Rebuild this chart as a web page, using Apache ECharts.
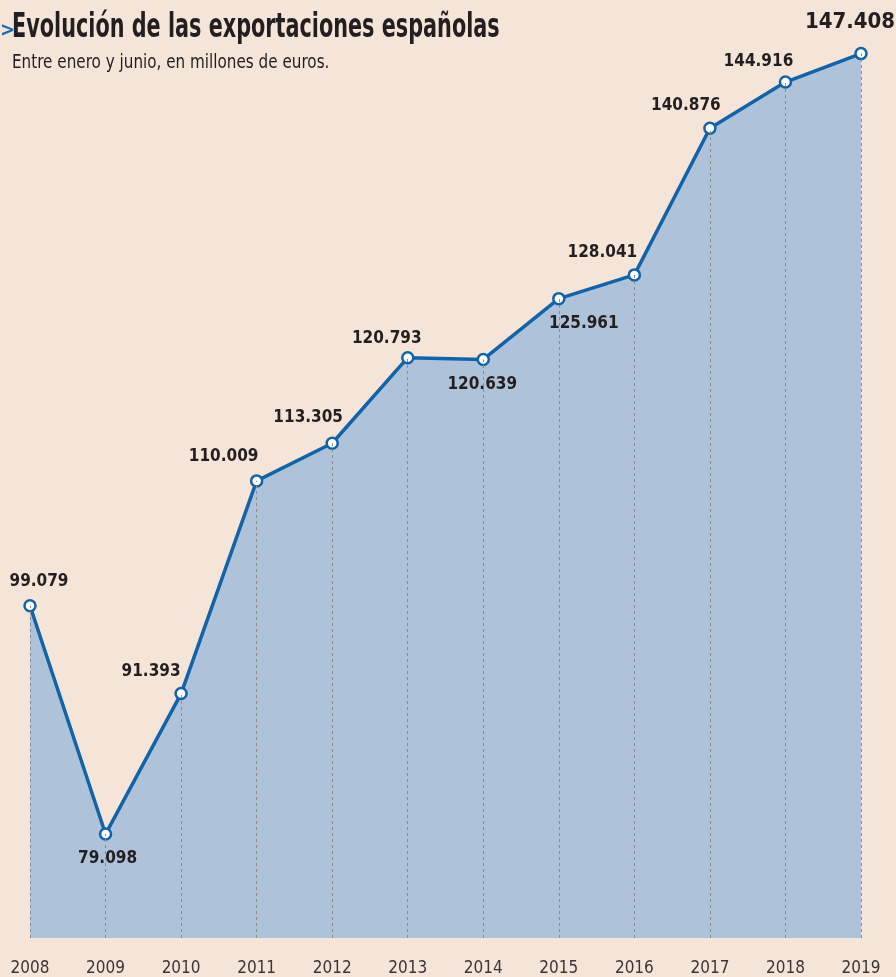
<!DOCTYPE html>
<html>
<head>
<meta charset="utf-8">
<script src="https://cdn.jsdelivr.net/npm/echarts@6/dist/echarts.min.js"></script>
<style>
  html, body { margin: 0; padding: 0; background: #f5e5d9; }
  #chart { width: 896px; height: 977px; }
</style>
</head>
<body>
<div id="chart"></div>
<script>
// datos
var years = ["2008", "2009", "2010", "2011", "2012", "2013", "2014", "2015", "2016", "2017", "2018", "2019"];
var exportsValues = [99.079, 79.098, 91.393, 110.009, 113.305, 120.793, 120.639, 125.961, 128.041, 140.876, 144.916, 147.408];
var valueLabels = ["99.079", "79.098", "91.393", "110.009", "113.305", "120.793", "120.639", "125.961", "128.041", "140.876", "144.916", "147.408"];

// posicion de cada etiqueta respecto al punto
var labelOffsets = [[9, -24], [2, 25], [-30, -22], [-33, -24], [-24, -26], [-21, -19], [-1, 25], [25, 25], [-32, -22], [-24, -23], [-27, -21], [-11, -31]];

var narrow = "'Liberation Sans Narrow', 'DejaVu Sans Condensed', 'Arial Narrow', sans-serif";
var yMin = 70;

var chart = echarts.init(document.getElementById("chart"));
chart.setOption({
  backgroundColor: "#f5e5d9",
  animation: false,
  graphic: [
    {
      type: "text",
      left: 0,
      top: 21,
      style: { text: ">", fill: "#1a6bb0", font: "bold 20px " + narrow }
    },
    {
      type: "text",
      x: 12,
      y: 12,
      scaleX: 0.7,
      style: { text: "Evolución de las exportaciones españolas", fill: "#231f20", font: "bold 33px " + narrow }
    },
    {
      type: "text",
      x: 12,
      y: 54,
      scaleX: 0.89,
      style: { text: "Entre enero y junio, en millones de euros.", fill: "#231f20", font: "19px " + narrow }
    }
  ],
  grid: {
    left: 30,
    right: 35,
    top: 24,
    bottom: 39
  },
  xAxis: {
    type: "category",
    data: years,
    boundaryGap: false,
    axisLine: { show: false },
    axisTick: { show: false },
    axisLabel: {
      color: "#3b3536",
      fontSize: 17,
      fontFamily: narrow,
      margin: 22
    },
    splitLine: { show: false }
  },
  yAxis: {
    type: "value",
    min: yMin,
    max: 150,
    show: false,
    splitLine: { show: false }
  },
  series: [
    {
      // area
      type: "line",
      z: 1,
      data: exportsValues,
      symbol: "none",
      lineStyle: { width: 0 },
      areaStyle: { color: "#aec3da", opacity: 1 },
      silent: true
    },
    {
      // lineas verticales discontinuas
      type: "line",
      z: 2,
      data: exportsValues,
      symbol: "none",
      lineStyle: { width: 0, opacity: 0 },
      silent: true,
      markLine: {
        silent: true,
        symbol: "none",
        label: { show: false },
        lineStyle: { color: "#8c8c8c", type: [3, 3], width: 1 },
        data: exportsValues.map(function (v, i) {
          return [{ coord: [i, yMin] }, { coord: [i, v] }];
        })
      }
    },
    {
      type: "line",
      z: 3,
      data: exportsValues.map(function (v, i) {
        var big = i === exportsValues.length - 1;
        return {
          value: v,
          label: {
            offset: labelOffsets[i],
            fontSize: big ? 22 : 17
          }
        };
      }),
      symbol: "circle",
      symbolSize: 11,
      itemStyle: {
        color: "#ffffff",
        borderColor: "#1263a8",
        borderWidth: 2.5
      },
      lineStyle: { color: "#1263a8", width: 3.5 },
      label: {
        show: true,
        position: "inside",
        color: "#231f20",
        fontWeight: "bold",
        fontFamily: narrow,
        formatter: function (p) {
          return valueLabels[p.dataIndex];
        }
      }
    }
  ]
});
</script>
</body>
</html>
